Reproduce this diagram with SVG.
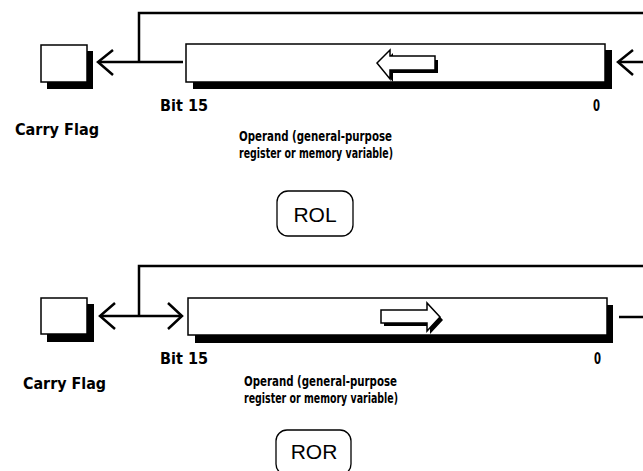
<svg xmlns="http://www.w3.org/2000/svg" width="643" height="471" viewBox="0 0 643 471">
<style>
.bg{fill:#fff}
.sh{fill:#000}
.box{fill:#fff;stroke:#000;stroke-width:1.5}
.ln{fill:none;stroke:#000;stroke-width:2.5}
.chev{fill:none;stroke:#000;stroke-width:2.5;stroke-linejoin:miter}
.lbl{font-family:"DejaVu Sans Condensed","Liberation Sans Narrow","Liberation Sans",sans-serif;font-weight:bold;font-size:15px;fill:#000}
.op{font-family:"DejaVu Sans Condensed","Liberation Sans Narrow","Liberation Sans",sans-serif;font-weight:bold;font-size:14.5px;fill:#000}
.mn{font-family:"Liberation Sans",Arial,sans-serif;font-size:21px;fill:#000}
.pill{fill:#fff;stroke:#000;stroke-width:1.3}
.harr{fill:#fff;stroke:#000;stroke-width:1.5;stroke-linejoin:miter}
</style>
<rect class="bg" x="0" y="0" width="643" height="471"/>

<!-- ROL section -->
<g id="rol-carry">
  <rect class="sh" x="47" y="51" width="46" height="38"/>
  <rect class="box" x="41" y="45" width="46" height="37"/>
  <text class="lbl" x="15" y="135" textLength="84" lengthAdjust="spacingAndGlyphs">Carry Flag</text>
</g>
<g id="rol-operand">
  <rect class="sh" x="193" y="50" width="419" height="39"/>
  <rect class="box" x="186" y="44" width="419" height="38"/>
  <polygon class="sh" points="380,66 393,53 393,60 438,60 438,73 393,73 393,82"/>
  <polygon class="harr" points="377,63 390,50 390,56 435,56 435,70 390,70 390,79"/>
  <text class="lbl" x="160" y="111" textLength="48" lengthAdjust="spacingAndGlyphs">Bit 15</text>
  <text class="lbl" x="593" y="111" textLength="7" lengthAdjust="spacingAndGlyphs">0</text>
  <text class="op" x="239" y="141" textLength="153" lengthAdjust="spacingAndGlyphs">Operand (general-purpose</text>
  <text class="op" x="239" y="158" textLength="154" lengthAdjust="spacingAndGlyphs">register or memory variable)</text>
</g>
<g id="rol-label">
  <rect class="pill" x="277" y="191" width="76" height="45" rx="11" ry="11"/>
  <text class="mn" x="315" y="222" text-anchor="middle">ROL</text>
</g>

<!-- ROR section -->
<g id="ror-carry">
  <rect class="sh" x="47" y="304" width="47" height="38"/>
  <rect class="box" x="41" y="298" width="46" height="36"/>
  <text class="lbl" x="23" y="389" textLength="83" lengthAdjust="spacingAndGlyphs">Carry Flag</text>
</g>
<g id="ror-operand">
  <rect class="sh" x="195" y="305" width="418" height="38"/>
  <rect class="box" x="188" y="298" width="419" height="37"/>
  <polygon class="sh" points="384,313 430,313 430,306 443,320 430,334 430,326 384,326"/>
  <polygon class="harr" points="381,310 427,310 427,303 440,317 427,331 427,323 381,323"/>
  <text class="lbl" x="160" y="364" textLength="48" lengthAdjust="spacingAndGlyphs">Bit 15</text>
  <text class="lbl" x="594" y="364" textLength="7" lengthAdjust="spacingAndGlyphs">0</text>
  <text class="op" x="244" y="386" textLength="153" lengthAdjust="spacingAndGlyphs">Operand (general-purpose</text>
  <text class="op" x="244" y="403" textLength="154" lengthAdjust="spacingAndGlyphs">register or memory variable)</text>
</g>
<g id="ror-label">
  <rect class="pill" x="276" y="430" width="75" height="45" rx="11" ry="11"/>
  <text class="mn" x="314" y="459" text-anchor="middle">ROR</text>
</g>

<g id="connectors">
  <!-- ROL -->
  <polyline class="ln" points="183,62 99,62"/>
  <polyline class="ln" points="139,62 139,13 643,13"/>
  <polyline class="chev" points="113,50 98,62 113,75"/>
  <line class="ln" x1="619" y1="62" x2="643" y2="62"/>
  <polyline class="chev" points="633,50 618,62 633,75"/>
  <!-- ROR -->
  <line class="ln" x1="101" y1="316" x2="181" y2="316"/>
  <polyline class="ln" points="139,316 139,266 643,266"/>
  <polyline class="chev" points="115,303 100,316 115,329"/>
  <polyline class="chev" points="168,303 182,316 168,329"/>
  <line class="ln" x1="619" y1="317" x2="643" y2="317"/>
</g>
</svg>
